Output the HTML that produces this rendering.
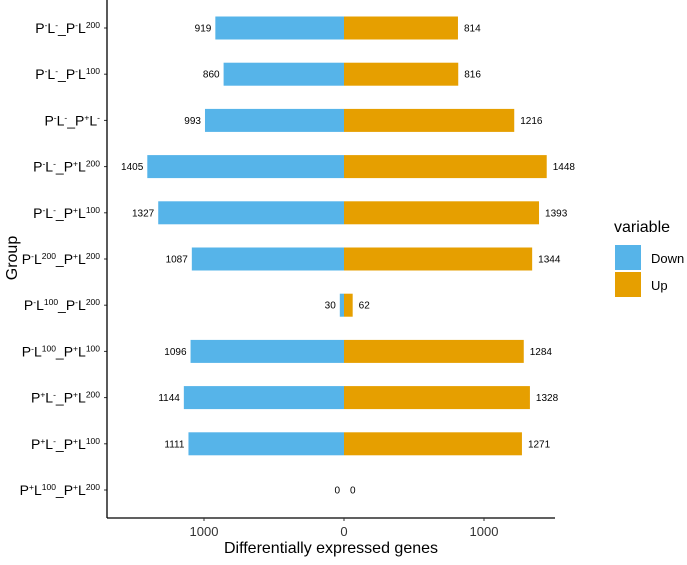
<!DOCTYPE html>
<html><head><meta charset="utf-8"><style>
body{margin:0;background:#fff}
svg{font-family:"Liberation Sans",Arial,sans-serif}
</style></head><body>
<svg id="c" width="687" height="560" xmlns="http://www.w3.org/2000/svg">
<g id="plot"></g>
</svg>
<script>
const groups=[["P","-","L","-","_P","-","L","200"],["P","-","L","-","_P","-","L","100"],["P","-","L","-","_P","+","L","-"],["P","-","L","-","_P","+","L","200"],["P","-","L","-","_P","+","L","100"],["P","-","L","200","_P","+","L","200"],["P","-","L","100","_P","-","L","200"],["P","-","L","100","_P","+","L","100"],["P","+","L","-","_P","+","L","200"],["P","+","L","-","_P","+","L","100"],["P","+","L","100","_P","+","L","200"]];
const downVals=[919,860,993,1405,1327,1087,30,1096,1144,1111,0];
const upVals=[814,816,1216,1448,1393,1344,62,1284,1328,1271,0];
const xTicks=[-1000,0,1000];
const xTickLabels=["1000","0","1000"];
const NS="http://www.w3.org/2000/svg";
const g=document.getElementById('plot');
const x0=344,k=0.14,axL=107,axB=518,yTop=28,step=46.2,bh=23;
const X=v=>x0+v*k;
const Y=i=>yTop+i*step;
function mk(t,a,p){const e=document.createElementNS(NS,t);for(const n in a)e.setAttribute(n,a[n]);(p||g).appendChild(e);return e;}
groups.forEach((gr,i)=>{
  const yc=Y(i);
  const d=mk('rect',{x:X(-downVals[i]),y:yc-bh/2,width:downVals[i]*k,height:bh,fill:'#56B4E9'});
  
  
  const u=mk('rect',{x:X(0),y:yc-bh/2,width:upVals[i]*k,height:bh,fill:'#E69F00'});
  
  
  const dl=mk('text',{x:X(-downVals[i])-4,y:yc+3.5,'font-size':10,'text-anchor':'end',fill:'#000'});
  dl.textContent=downVals[i];
  
  
  const ul=mk('text',{x:X(upVals[i])+6,y:yc+3.5,'font-size':10,fill:'#000'});
  ul.textContent=upVals[i];
  
  
  const t=mk('text',{x:axL-7,y:yc+5,'font-size':14,'text-anchor':'end',fill:'#000'});
  
  
  for(let j=0;j<gr.length;j+=2){
    const a=document.createElementNS(NS,'tspan');a.textContent=gr[j];t.appendChild(a);
    const b=document.createElementNS(NS,'tspan');b.textContent=gr[j+1];b.setAttribute('font-size','8.5');b.setAttribute('baseline-shift','5.5');t.appendChild(b);
  }
  mk('line',{x1:axL-3,x2:axL,y1:yc,y2:yc,stroke:'#333','stroke-width':1});
});
const al=mk('line',{x1:axL,x2:axL,y1:0,y2:axB,stroke:'#000','stroke-width':1.3});

const ab=mk('line',{x1:axL,x2:555,y1:axB,y2:axB,stroke:'#000','stroke-width':1.3});

xTicks.forEach((v,i)=>{
  mk('line',{x1:X(v),x2:X(v),y1:axB,y2:axB+3,stroke:'#333'});
  const t=mk('text',{x:X(v),y:axB+18,'font-size':13,'text-anchor':'middle',fill:'#333'});
  t.textContent=xTickLabels[i];
  
  
});
</script>
<svg width="687" height="560" style="position:absolute;left:0;top:0" xmlns="http://www.w3.org/2000/svg">
<text x="331" y="553" font-size="16" text-anchor="middle" font-family="Liberation Sans,sans-serif">Differentially expressed genes</text>
<text transform="translate(17,258) rotate(-90)" font-size="16" text-anchor="middle" font-family="Liberation Sans,sans-serif">Group</text>
<text x="614" y="232" font-size="16" font-family="Liberation Sans,sans-serif">variable</text>
<rect x="615" y="245" width="26" height="25" fill="#56B4E9"/>
<text x="651" y="263" font-size="13" font-family="Liberation Sans,sans-serif">Down</text>
<rect x="615" y="272" width="26" height="25" fill="#E69F00"/>
<text x="651" y="290" font-size="13" font-family="Liberation Sans,sans-serif">Up</text>
</svg>
</body></html>
